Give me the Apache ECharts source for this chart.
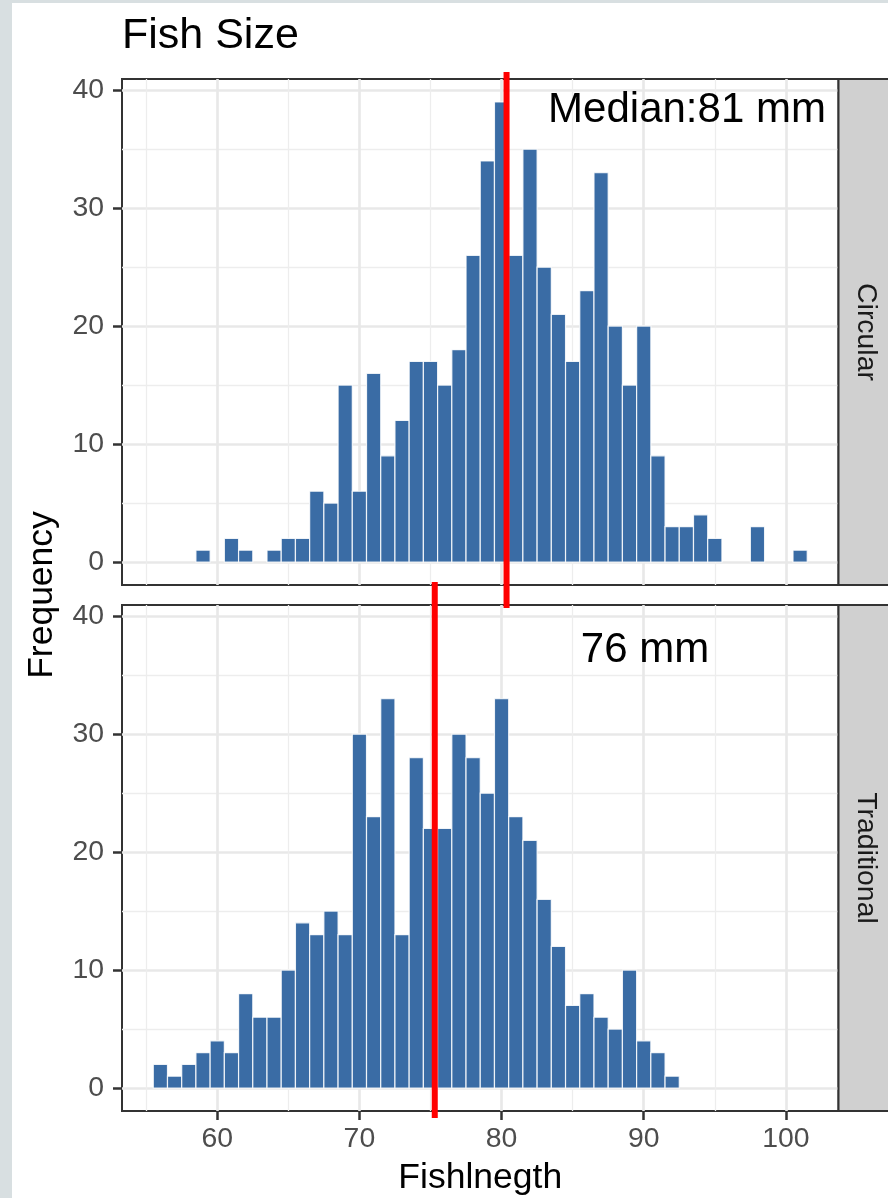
<!DOCTYPE html>
<html>
<head>
<meta charset="utf-8">
<script src="https://cdn.jsdelivr.net/npm/echarts@6/dist/echarts.min.js"></script>
<style>
  html, body { margin: 0; padding: 0; background: #d8dfe1; }
  #main { width: 888px; height: 1198px; }
</style>
</head>
<body>
<div id="main"></div>
<script>
// histogram bins (bin centre, mm) and counts
const circularBins = [59, 60, 61, 62, 63, 64, 65, 66, 67, 68, 69, 70, 71, 72, 73, 74, 75, 76, 77, 78, 79, 80,
  81, 82, 83, 84, 85, 86, 87, 88, 89, 90, 91, 92, 93, 94, 95, 96, 97, 98, 99, 100, 101];
const circularCounts = [1, 0, 2, 1, 0, 1, 2, 2, 6, 5, 15, 6, 16, 9, 12, 17, 17, 15, 18, 26, 34, 39,
  26, 35, 25, 21, 17, 23, 33, 20, 15, 20, 9, 3, 3, 4, 2, 0, 0, 3, 0, 0, 1];
const traditionalBins = [56, 57, 58, 59, 60, 61, 62, 63, 64, 65, 66, 67, 68, 69, 70, 71, 72, 73, 74, 75, 76,
  77, 78, 79, 80, 81, 82, 83, 84, 85, 86, 87, 88, 89, 90, 91, 92];
const traditionalCounts = [2, 1, 2, 3, 4, 3, 8, 6, 6, 10, 14, 13, 15, 13, 30, 23, 33, 13, 28, 22, 22,
  30, 28, 25, 33, 23, 21, 16, 12, 7, 8, 6, 5, 10, 4, 3, 1];
const binWidth = 1;
const panelNames = ['Circular', 'Traditional'];
const medians = [80.35, 75.3];
const medianLabels = ['Median:81 mm', '76 mm'];
const xTicks = [60, 70, 80, 90, 100];
const yTicks = [0, 10, 20, 30, 40];

const FONT = '"Liberation Sans", Arial, Helvetica, sans-serif';
const chart = echarts.init(document.getElementById('main'));

const panels = [
  { top: 79, height: 506, lineUp: 7, lineDown: 23, labelX: 687, labelY: 110 },
  { top: 605, height: 506, lineUp: 23, lineDown: 7, labelX: 645, labelY: 650 }
];
const plotLeft = 122, plotWidth = 716.5;
const gridMajor = { color: '#e8e8e8', width: 2.6 };
const gridMinor = { color: '#ededed', width: 1.3 };

function zip(xs, ys) {
  return xs.map(function (x, i) { return [x, ys[i]]; });
}

function histItem(params, api) {
  const n = api.value(1);
  if (!n) return null;
  const x = api.value(0);
  const a = api.coord([x - binWidth / 2, n]);
  const b = api.coord([x + binWidth / 2, 0]);
  return {
    type: 'rect',
    shape: { x: a[0], y: a[1], width: b[0] - a[0], height: b[1] - a[1] },
    style: { fill: '#3a6ca5', stroke: 'rgba(255,255,255,0.85)', lineWidth: 1.2 }
  };
}

function medianItem(up, down) {
  return function (params, api) {
    const p = api.coord([api.value(0), 0]);
    const cs = params.coordSys;
    return {
      type: 'line',
      shape: { x1: p[0], y1: cs.y - up, x2: p[0], y2: cs.y + cs.height + down },
      style: { stroke: '#ff0000', lineWidth: 6 }
    };
  };
}

const grids = [], xAxes = [], yAxes = [], series = [], graphics = [];

// white page area, grey frame on the left/top
graphics.push({ type: 'rect', z: -10, shape: { x: 12, y: 3, width: 876, height: 1195 }, style: { fill: '#ffffff' } });

panels.forEach(function (p, i) {
  const isBottom = i === panels.length - 1;
  grids.push({
    left: plotLeft, top: p.top, width: plotWidth, height: p.height,
    show: true, backgroundColor: '#ffffff', borderColor: '#333333', borderWidth: 2
  });
  xAxes.push({
    type: 'value', gridIndex: i, min: 53.3, max: 103.7, minInterval: 10, maxInterval: 10,
    axisLine: { show: false, onZero: false },
    axisTick: { show: isBottom, customValues: xTicks, length: 9, lineStyle: { color: '#333333', width: 2.5 } },
    axisLabel: { show: isBottom, customValues: xTicks, margin: 14, fontSize: 28.4, color: '#4d4d4d', fontFamily: FONT },
    splitLine: { show: true, lineStyle: gridMajor },
    minorTick: { show: false, splitNumber: 2 },
    minorSplitLine: { show: true, lineStyle: gridMinor }
  });
  yAxes.push({
    type: 'value', gridIndex: i, min: -1.95, max: 40.95, minInterval: 10, maxInterval: 10,
    axisLine: { show: false, onZero: false },
    axisTick: { show: true, customValues: yTicks, length: 9, lineStyle: { color: '#333333', width: 2.5 } },
    axisLabel: { customValues: yTicks, margin: 18, fontSize: 28.4, color: '#4d4d4d', fontFamily: FONT },
    splitLine: { show: true, lineStyle: gridMajor },
    minorTick: { show: false, splitNumber: 2 },
    minorSplitLine: { show: true, lineStyle: gridMinor }
  });

  // strip on the right
  graphics.push({
    type: 'rect', z: 50,
    shape: { x: plotLeft + plotWidth, y: p.top, width: 60, height: p.height },
    style: { fill: '#d0d0d0', stroke: '#333333', lineWidth: 2 }
  });
  graphics.push({
    type: 'text', z: 51, x: 866, y: p.top + p.height / 2, rotation: -Math.PI / 2,
    style: { text: panelNames[i], x: 0, y: 0, fill: '#1a1a1a', font: '28.4px ' + FONT,
      align: 'center', verticalAlign: 'middle', textAlign: 'center', textVerticalAlign: 'middle' }
  });
  graphics.push({
    type: 'text', z: 60, x: p.labelX, y: p.labelY,
    style: { text: medianLabels[i], x: 0, y: 0, fill: '#000000', font: '42px ' + FONT,
      align: 'center', verticalAlign: 'middle', textAlign: 'center', textVerticalAlign: 'middle' }
  });
});

series.push({
  type: 'custom', name: panelNames[0], xAxisIndex: 0, yAxisIndex: 0, clip: false,
  renderItem: histItem, data: zip(circularBins, circularCounts)
});
series.push({
  type: 'custom', name: panelNames[1], xAxisIndex: 1, yAxisIndex: 1, clip: false,
  renderItem: histItem, data: zip(traditionalBins, traditionalCounts)
});
medians.forEach(function (m, i) {
  series.push({
    type: 'custom', xAxisIndex: i, yAxisIndex: i, clip: false, z: 20, silent: true,
    renderItem: medianItem(panels[i].lineUp, panels[i].lineDown), data: [[m]]
  });
});

// titles
graphics.push({
  type: 'text', x: 122, y: 36,
  style: { text: 'Fish Size', x: 0, y: 0, fill: '#000000', font: '43px ' + FONT,
    align: 'left', verticalAlign: 'middle', textAlign: 'left', textVerticalAlign: 'middle' }
});
graphics.push({
  type: 'text', x: 42, y: 595, rotation: Math.PI / 2,
  style: { text: 'Frequency', x: 0, y: 0, fill: '#000000', font: '35.5px ' + FONT,
    align: 'center', verticalAlign: 'middle', textAlign: 'center', textVerticalAlign: 'middle' }
});
graphics.push({
  type: 'text', x: plotLeft + plotWidth / 2, y: 1178,
  style: { text: 'Fishlnegth', x: 0, y: 0, fill: '#000000', font: '35.5px ' + FONT,
    align: 'center', verticalAlign: 'middle', textAlign: 'center', textVerticalAlign: 'middle' }
});

chart.setOption({
  backgroundColor: '#d8dfe1',
  animation: false,
  grid: grids,
  xAxis: xAxes,
  yAxis: yAxes,
  series: series,
  graphic: { elements: graphics }
});
</script>
</body>
</html>
